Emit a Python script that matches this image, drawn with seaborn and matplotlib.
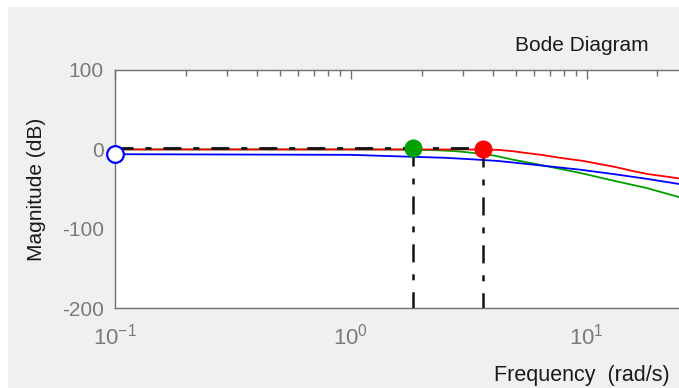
import numpy as np
import pandas as pd
import matplotlib
matplotlib.use("Agg")
import matplotlib.pyplot as plt
import seaborn as sns
from matplotlib.ticker import LogLocator, NullFormatter, FixedLocator, FixedFormatter
from matplotlib.patches import Rectangle

# ---------------- data ----------------
omega_red = [0.1, 1.0, 3.0, 4.2, 4.8, 5.4, 6.5, 7.7, 9.7, 11.4, 13.2, 15.6, 18.2, 22.2, 26.0]
mag_red = [0.0, 0.0, 0.0, -0.5, -2.0, -4.0, -7.0, -10.5, -14.5, -18.5, -22.0, -27.0, -31.0, -34.5, -37.5]

omega_blue = [0.1, 1.0, 1.5, 2.5, 3.3, 4.2, 4.9, 6.8, 9.4, 13.0, 18.0, 24.7, 26.0]
mag_blue = [-6.0, -6.8, -8.5, -10.5, -12.5, -14.5, -16.5, -21.0, -25.5, -31.0, -37.0, -43.5, -44.5]

omega_green = [0.1, 1.0, 1.83, 2.3, 2.8, 3.6, 4.1, 4.9, 6.15, 6.8, 9.4, 13.0, 18.0, 24.7, 26.0]
mag_green = [0.0, 0.0, -0.3, -1.0, -2.2, -5.5, -8.0, -13.0, -18.5, -21.2, -29.6, -39.3, -48.6, -60.0, -62.0]

ref_omega = [0.1, 3.63]          # horizontal dash-dot reference
ref_mag = [2.0, 2.0]
mark_omega = [1.83, 3.63]        # marked frequencies
mark_mag = [2.0, 1.0]
mark_names = ["green", "red"]
start_omega = [0.1]
start_mag = [-6.0]
floor_mag = -200.0

yticks = [-200, -100, 0, 100]
ytick_labels = ["-200", "-100", "0", "100"]
xticks = [0.1, 1.0, 10.0]
xtick_labels = [r"$10^{-1}$", r"$10^{0}$", r"$10^{1}$"]

title = "Bode Diagram"
xlabel = "Frequency  (rad/s)"
ylabel = "Magnitude (dB)"

# ---------------- style ----------------
sns.set_theme(style="white")
plt.rcParams["font.family"] = ["Liberation Sans", "DejaVu Sans"]
plt.rcParams["axes.unicode_minus"] = False
plt.rcParams["lines.scale_dashes"] = False
plt.rcParams["mathtext.default"] = "regular"

colors = {"red": "#ff0000", "blue": "#0000ff", "green": "#00a000"}
grey_axis = "#707070"
grey_text = "#7a7a7a"
W, H = 679, 388

fig = plt.figure(figsize=(W / 100, H / 100), dpi=100, facecolor="white")
fig.patches.append(Rectangle((8 / W, 0), 1, 381 / H, transform=fig.transFigure,
                             facecolor="#f0f0f0", edgecolor="none", zorder=-10))
ax = fig.add_axes([115 / W, (H - 308.3) / H, 943 / W, 238.3 / H])
ax.set_facecolor("white")

df = pd.concat([
    pd.DataFrame({"omega": omega_green, "mag": mag_green, "sys": "green"}),
    pd.DataFrame({"omega": omega_blue, "mag": mag_blue, "sys": "blue"}),
    pd.DataFrame({"omega": omega_red, "mag": mag_red, "sys": "red"}),
], ignore_index=True)

sns.lineplot(data=df, x="omega", y="mag", hue="sys", hue_order=["green", "blue", "red"],
             palette=colors, estimator=None, sort=True, legend=False, linewidth=1.3, ax=ax)

dashdot = (0, (13, 8.6, 4.3, 8.6))
ax.plot(ref_omega, ref_mag, color="#111111", linewidth=2.0, linestyle=dashdot, zorder=3)
for w, m in zip(mark_omega, mark_mag):
    ax.plot([w, w], [m, floor_mag], color="#111111", linewidth=1.8, linestyle=dashdot, zorder=3)

for w, m, c in zip(mark_omega, mark_mag, mark_names):
    ax.plot([w], [m], marker="o", markersize=12, color=colors[c], markeredgecolor=colors[c],
            linestyle="none", zorder=5)
ax.plot(start_omega, start_mag, marker="o", markersize=12, markerfacecolor="white",
        markeredgecolor=colors["blue"], markeredgewidth=1.6, linestyle="none", zorder=5, clip_on=False)

ax.set_xscale("log")
ax.set_xlim(0.1, 1000)
ax.set_ylim(-200, 100)
ax.xaxis.set_major_locator(FixedLocator(xticks))
ax.xaxis.set_major_formatter(FixedFormatter(xtick_labels))
ax.xaxis.set_minor_locator(LogLocator(base=10, subs=np.arange(2, 10), numticks=100))
ax.xaxis.set_minor_formatter(NullFormatter())
ax.yaxis.set_major_locator(FixedLocator(yticks))
ax.yaxis.set_major_formatter(FixedFormatter(ytick_labels))

for s in ax.spines.values():
    s.set_color(grey_axis)
    s.set_linewidth(1.0)
    s.set_visible(True)

ax.tick_params(axis="both", which="both", direction="in", top=True, right=True,
               color=grey_axis, labelcolor=grey_text, labelsize=15, width=1.0)
ax.tick_params(axis="both", which="major", length=6.5)
ax.tick_params(axis="x", which="minor", length=4)
ax.tick_params(axis="y", which="major", pad=8)
ax.tick_params(axis="x", which="major", pad=11, labelsize=16)

ax.set_title(title, fontsize=15, color="#1a1a1a", pad=13.5)
ax.title.set_x(0.495)
ax.set_xlabel(xlabel, fontsize=15.5, color="#1a1a1a")
ax.xaxis.set_label_coords(0.495, -0.237)
ax.set_ylabel(ylabel, fontsize=15, color="#1a1a1a")
ax.yaxis.set_label_coords(-0.0736, 0.5)

fig.savefig("out.png", dpi=100, facecolor=fig.get_facecolor())
